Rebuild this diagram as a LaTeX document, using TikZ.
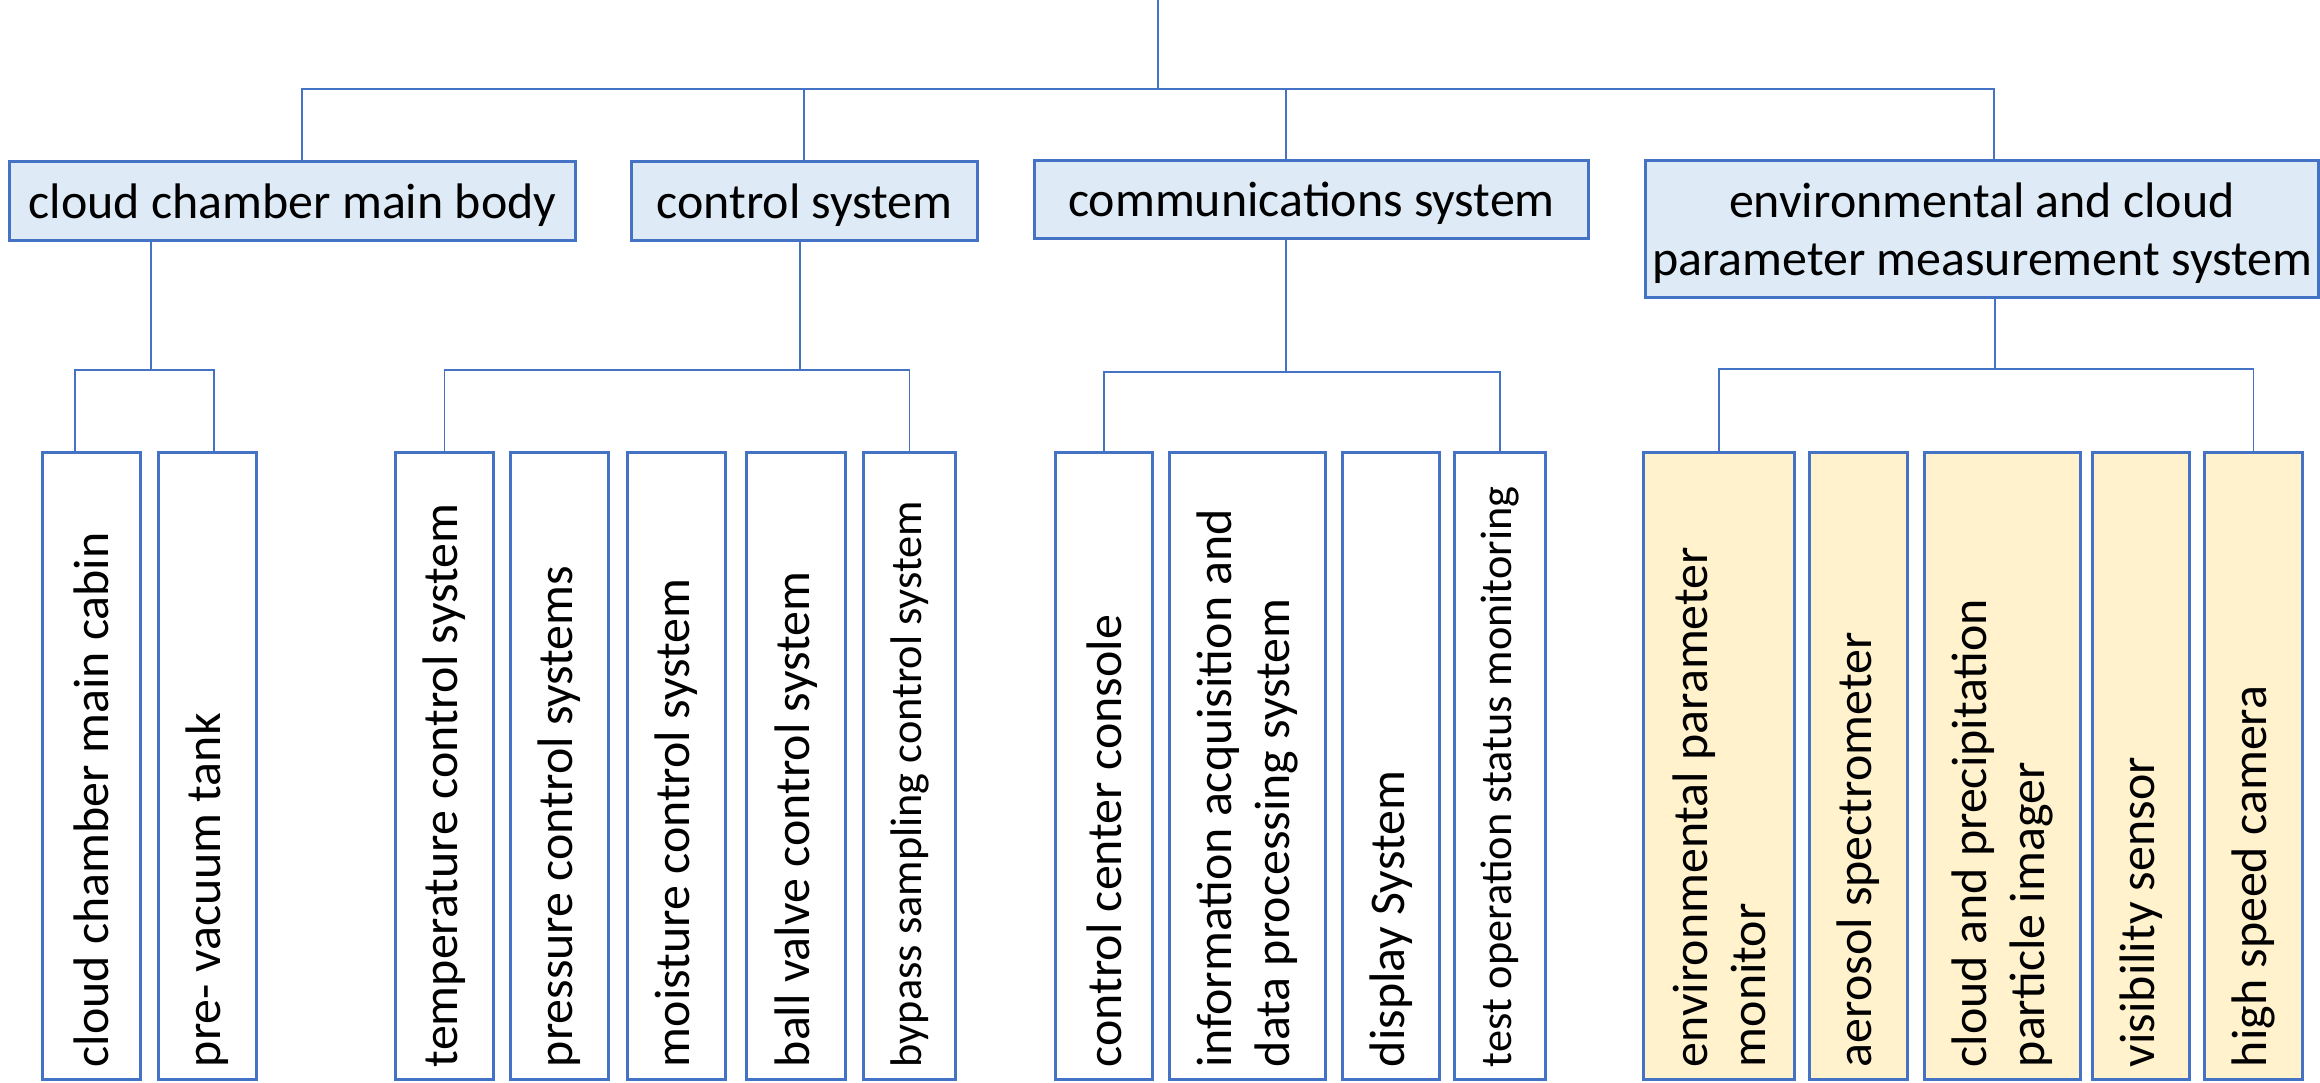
\documentclass[tikz,border=0pt]{standalone}
\usepackage{fontspec}
\setmainfont{Carlito}
\usepackage{graphicx}
\definecolor{chartBlue}{HTML}{4472C4}
\definecolor{chartSky}{HTML}{DEEBF7}
\definecolor{chartCream}{HTML}{FFF2CC}
\newcommand{\uptext}[1]{\rotatebox{90}{\parbox{6.02cm}{\raggedright #1}}}

\begin{document}
\begin{tikzpicture}[
        x=0.01cm, y=-0.01cm,
        font=\fontsize{14.2}{16.5}\selectfont,
        group/.style={draw=chartBlue, line width=0.85pt, fill=chartSky, inner sep=0pt, align=center, text depth=0pt, minimum height=0.78cm},
        leaf/.style={draw=chartBlue, line width=0.85pt, fill=white, inner sep=0pt, minimum width=0.97cm, minimum height=6.26cm},
        sensor/.style={leaf, fill=chartCream},
        small/.style={font=\fontsize{12.6}{15}\selectfont},
        link/.style={draw=chartBlue, line width=0.45pt}
    ]
    \useasboundingbox (0,0) rectangle (2320,1083);

    % subsystems
    \node[group, minimum width=5.65cm] (body) at (292.5,201) {cloud chamber main body};
    \node[group, minimum width=3.45cm] (ctrl) at (804.5,201) {control system};
    \node[group, minimum width=5.53cm, minimum height=0.77cm] (comm) at (1311.5,199.5) {communications system};
    \node[group, minimum width=6.72cm, minimum height=1.36cm] (env) at (1982,229) {environmental and cloud\\parameter measurement system};

    % components
    \node[leaf] (cabin) at (91.5,766) {\uptext{cloud chamber main cabin}};
    \node[leaf] (tank) at (207.5,766) {\uptext{pre- vacuum tank}};

    \node[leaf] (temp) at (444.5,766) {\uptext{temperature control system}};
    \node[leaf] (press) at (559.5,766) {\uptext{pressure control systems}};
    \node[leaf] (moist) at (676.5,766) {\uptext{moisture control system}};
    \node[leaf, minimum width=0.98cm] (valve) at (796,766) {\uptext{ball valve control system}};
    \node[leaf, small, minimum width=0.91cm] (bypass) at (909.5,766) {\uptext{bypass sampling control system}};

    \node[leaf, minimum width=0.96cm] (console) at (1104,766) {\uptext{control center console}};
    \node[leaf, minimum width=1.55cm] (info) at (1247.5,766) {\uptext{information acquisition and\\data processing system}};
    \node[leaf, minimum width=0.96cm] (display) at (1391,766) {\uptext{display System}};
    \node[leaf, small, minimum width=0.90cm] (status) at (1500,766) {\uptext{test operation status monitoring}};

    \node[sensor, minimum width=1.50cm] (envmon) at (1719,766) {\uptext{environmental parameter\\monitor}};
    \node[sensor] (aerosol) at (1858.5,766) {\uptext{aerosol spectrometer}};
    \node[sensor, minimum width=1.55cm] (imager) at (2002.5,766) {\uptext{cloud and precipitation\\particle imager}};
    \node[sensor, minimum width=0.96cm] (visib) at (2141,766) {\uptext{visibility sensor}};
    \node[sensor] (camera) at (2253.5,766) {\uptext{high speed camera}};

    % top tree
    \coordinate (top) at (1158,0);
    \coordinate (bus) at (1158,89);
    \coordinate (bodyup) at (302,89);
    \coordinate (ctrlup) at (804,89);
    \coordinate (commup) at (1286,89);
    \coordinate (envup) at (1994,89);
    \draw[link] (top) -- (bus);
    \draw[link] (bodyup |- body.north) -- (bodyup) -- (envup) -- (envup |- env.north);
    \draw[link] (ctrlup) -- (ctrlup |- ctrl.north);
    \draw[link] (commup) -- (commup |- comm.north);

    % lower tree
    \coordinate (bodydown) at (151,370);
    \coordinate (ctrldown) at (800,370);
    \coordinate (commdown) at (1286,372);
    \coordinate (envdown) at (1995,369);
    \coordinate (cabintop) at ([xshift=-0.165cm]cabin.north);
    \coordinate (tanktop) at ([xshift=0.065cm]tank.north);

    \draw[link] (bodydown |- body.south) -- (bodydown);
    \draw[link] (cabintop) |- (bodydown) -| (tanktop);
    \draw[link] (ctrldown |- ctrl.south) -- (ctrldown);
    \draw[link] (temp.north) |- (ctrldown) -| (bypass.north);
    \draw[link] (commdown |- comm.south) -- (commdown);
    \draw[link] (console.north) |- (commdown) -| (status.north);
    \draw[link] (envdown |- env.south) -- (envdown);
    \draw[link] (envmon.north) |- (envdown) -| (camera.north);
\end{tikzpicture}
\end{document}
